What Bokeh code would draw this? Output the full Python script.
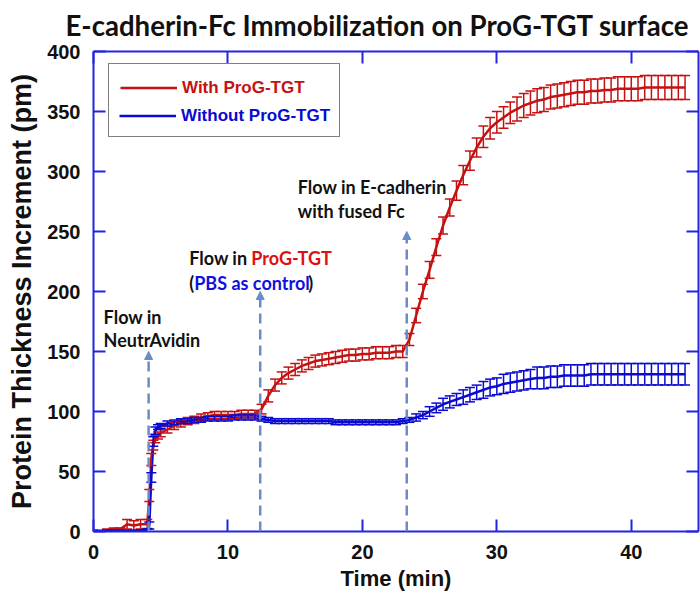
from bokeh.plotting import figure
from bokeh.models import (ColumnDataSource, Whisker, TeeHead, LinearAxis, FixedTicker,
                          Range1d, Legend, LegendItem, Arrow, NormalHead, Label)
from bokeh.embed import file_html
from bokeh.resources import INLINE

# ---------------- data ----------------
time = [0, 0.5, 1, 1.5, 2, 2.5, 3, 3.5, 4, 4.15, 4.3, 4.45, 4.6, 4.8, 5,
        5.5, 6, 6.5, 7, 7.5, 8, 8.5, 9, 9.5, 10,
        10.5, 11, 11.5, 12, 12.5, 13, 13.5, 14, 14.5, 15,
        15.5, 16, 16.5, 17, 17.5, 18, 18.5, 19, 19.5, 20,
        20.5, 21, 21.5, 22, 22.5, 23, 23.5, 24, 24.5, 25,
        25.5, 26, 26.5, 27, 27.5, 28, 28.5, 29, 29.5, 30,
        30.5, 31, 31.5, 32, 32.5, 33, 33.5, 34, 34.5, 35,
        35.5, 36, 36.5, 37, 37.5, 38, 38.5, 39, 39.5, 40,
        40.5, 41, 41.5, 42, 42.5, 43, 43.5, 44]

with_prog = [0, 0, 1, 2, 2, 6, 5, 6, 6, 30, 60, 72, 77, 80, 82,
             85, 88, 90, 92, 93, 95, 96, 97, 97, 97,
             97, 98, 98, 98, 102, 113, 122, 128, 132, 135,
             138, 140, 142, 143, 144, 145, 146, 147, 147, 148,
             148, 149, 149, 149, 150, 150, 160, 180, 200, 218,
             237, 255, 270, 284, 297, 309, 320, 329, 336, 341,
             345, 349, 352, 355, 357, 359, 360, 362, 363, 364,
             365, 366, 366, 367, 367, 368, 368, 369, 369, 369,
             369, 370, 370, 370, 370, 370, 370, 370]

with_prog_err = [0.5, 0.5, 1, 1, 1, 4, 4, 4, 4, 5, 5, 4, 3, 3, 3,
                 3, 3, 3, 3, 3, 3, 3, 3, 3, 3,
                 3, 3, 3, 3, 4, 5, 5, 5, 5, 5,
                 5, 5, 5, 5, 5, 5, 5, 5, 5, 5,
                 5, 5, 5, 5, 5, 5, 5, 6, 6, 7,
                 7, 7, 7, 8, 8, 8, 8, 9, 9, 9,
                 9, 9, 10, 10, 10, 10, 10, 10, 10, 10,
                 10, 10, 10, 10, 10, 10, 10, 10, 10, 10,
                 10, 10, 10, 10, 10, 10, 10, 10]

without_prog = [0, 0, 0, 0, 0, 0, 0, 0, 1, 5, 45, 75, 84, 87, 88,
                90, 91, 92, 92, 93, 93, 94, 94, 94, 94,
                95, 95, 95, 95, 94, 93, 92, 92, 92, 92,
                92, 92, 92, 92, 92, 91, 91, 91, 91, 91,
                91, 91, 91, 91, 91, 92, 93, 95, 97, 100,
                103, 106, 108, 110, 112, 114, 116, 118, 120, 121,
                123, 124, 125, 126, 127, 128, 128, 129, 129, 130,
                130, 130, 130, 131, 131, 131, 131, 131, 131, 131,
                131, 131, 131, 131, 131, 131, 131, 131]

without_prog_err = [1, 1, 1, 1, 1, 1, 1, 1.5, 1.5, 3, 4, 4, 3, 2, 2,
                    2, 2, 2, 2, 2, 2, 2, 2, 2, 2,
                    2, 2, 2, 2, 2, 2, 2, 2, 2, 2,
                    2, 2, 2, 2, 2, 2, 2, 2, 2, 2,
                    2, 2, 2, 2, 2, 2, 2, 3, 3, 4,
                    4, 5, 5, 5, 6, 6, 6, 7, 7, 7,
                    8, 8, 8, 8, 8, 9, 9, 9, 9, 9,
                    9, 9, 9, 9, 9, 9, 9, 9, 9, 9,
                    9, 9, 9, 9, 9, 9, 9, 9]

x_ticks = [0, 10, 20, 30, 40]
y_ticks = [0, 50, 100, 150, 200, 250, 300, 350, 400]

event_times = [4.1, 12.4, 23.3]
event_tops = [150, 200, 250]

series_labels = ["With ProG-TGT", "Without ProG-TGT"]
title_text = "E-cadherin-Fc Immobilization on ProG-TGT surface"

# ---------------- styling ----------------
RED = "#c41212"
BLUE = "#0a0ad0"
AXIS = "#2424e0"
ARROW = "#6a8cc6"
TICK_FONT = "Liberation Sans"
ANN_FONT = "Lato"

p = figure(width=700, height=595, x_range=Range1d(0, 45), y_range=Range1d(0, 400),
           output_backend="svg", toolbar_location=None,
           min_border_left=93, min_border_right=2, min_border_top=51, min_border_bottom=64)
p.outline_line_color = None
p.xgrid.visible = False
p.ygrid.visible = False

bottom_axis = p.below[0]
left_axis = p.left[0]

p.title.text = title_text
p.title.text_font = ANN_FONT
p.title.text_font_style = "bold"
p.title.text_font_size = "27.6px"
p.title.align = "left"
p.title.vertical_align = "top"
p.title.offset = -28
p.title.standoff = 16
p.title.text_color = "#111111"

top_axis = LinearAxis()
right_axis = LinearAxis()
p.add_layout(top_axis, "above")
p.add_layout(right_axis, "right")

for ax, ticks in [(bottom_axis, x_ticks), (top_axis, x_ticks), (left_axis, y_ticks), (right_axis, y_ticks)]:
    ax.ticker = FixedTicker(ticks=ticks)
    ax.axis_line_color = AXIS
    ax.axis_line_width = 2
    ax.major_tick_line_color = AXIS
    ax.major_tick_line_width = 2
    ax.major_tick_in = 12
    ax.major_tick_out = 0
    ax.minor_tick_line_color = None
    ax.major_label_text_font = TICK_FONT
    ax.major_label_text_font_style = "bold"
    ax.major_label_text_font_size = "20px"
    ax.major_label_text_color = "#111111"

for ax, ticks in ((top_axis, x_ticks), (right_axis, y_ticks)):
    ax.major_label_overrides = {t: "" for t in ticks}
    ax.major_label_text_font_size = "2px"
    ax.major_label_standoff = 0
    ax.axis_label_standoff = 0

bottom_axis.major_label_standoff = 13
left_axis.major_label_standoff = 13

bottom_axis.axis_label = "Time (min)"
left_axis.axis_label = "Protein Thickness Increment (pm)"
for ax in (bottom_axis, left_axis):
    ax.axis_label_text_font = TICK_FONT
    ax.axis_label_text_font_style = "bold"
    ax.axis_label_text_color = "#111111"
bottom_axis.axis_label_text_font_size = "22px"
left_axis.axis_label_text_font_size = "27px"
bottom_axis.axis_label_standoff = 4
left_axis.axis_label_standoff = 7

# ---------------- series ----------------
def add_series(vals, errs, color):
    src = ColumnDataSource(dict(
        t=time, v=vals,
        up=[v + e for v, e in zip(vals, errs)],
        lo=[v - e for v, e in zip(vals, errs)],
    ))
    r = p.line("t", "v", source=src, line_color=color, line_width=2.5)
    w = Whisker(source=src, base="t", upper="up", lower="lo",
                line_color=color, line_width=1.5,
                upper_head=TeeHead(size=10, line_color=color, line_width=1.5),
                lower_head=TeeHead(size=10, line_color=color, line_width=1.5))
    w.level = "glyph"
    p.add_layout(w)
    return r

r_red = add_series(with_prog, with_prog_err, RED)
r_blue = add_series(without_prog, without_prog_err, BLUE)
# invisible renderer that only reserves the second legend row of the framed legend
r_slot = p.line(x=[], y=[], line_alpha=0)

# ---------------- event arrows ----------------
for t, top in zip(event_times, event_tops):
    p.add_layout(Arrow(x_start=t, y_start=0, x_end=t, y_end=top,
                       line_color=ARROW, line_width=2.5, line_dash="10 6",
                       end=NormalHead(size=8, fill_color=ARROW, line_color=ARROW, line_width=1)))

def lab(x, y, text, color, xoff):
    p.add_layout(Label(x=x, y=y, text=text, text_color=color, x_offset=xoff,
                       text_font=ANN_FONT, text_font_style="bold", text_font_size="18px",
                       text_baseline="middle", text_align="left"))

t1, t2, t3 = event_times
lab(t1, 179, "Flow in", "#111111", -45)
lab(t1, 160, "NeutrAvidin", "#111111", -45)
lab(t2, 228, "Flow in", "#111111", -71)
lab(t2, 228, "ProG-TGT", "#e01010", -9)
lab(t2, 207.5, "(", "#111111", -71)
lab(t2, 207.5, "PBS as control", "#1010e0", -66)
lab(t2, 207.5, ")", "#111111", 48)
lab(t3, 287, "Flow in E-cadherin", "#111111", -109)
lab(t3, 267.5, "with fused Fc", "#111111", -109)

# ---------------- legend ----------------
def style_legend(lg):
    lg.label_text_font = TICK_FONT
    lg.label_text_font_style = "bold"
    lg.label_text_font_size = "17px"
    lg.spacing = 0
    lg.label_height = 25
    lg.glyph_height = 25
    lg.glyph_width = 57
    lg.label_standoff = 5
    lg.margin = 0

leg_a = Legend(items=[LegendItem(label=series_labels[0] + "     ", renderers=[r_red]),
                      LegendItem(label=" ", renderers=[r_slot])],
               location=(15, 394))
style_legend(leg_a)
leg_a.label_text_color = RED
leg_a.padding = 11
leg_a.border_line_color = "black"
leg_a.border_line_width = 1.5
leg_a.background_fill_color = "white"
leg_a.background_fill_alpha = 1
p.add_layout(leg_a)

leg_b = Legend(items=[LegendItem(label=series_labels[1], renderers=[r_blue])],
               location=(26, 403))
style_legend(leg_b)
leg_b.label_text_color = BLUE
leg_b.padding = 0
leg_b.border_line_color = None
leg_b.background_fill_alpha = 0
p.add_layout(leg_b)

open("out.html", "w").write(file_html(p, INLINE))
